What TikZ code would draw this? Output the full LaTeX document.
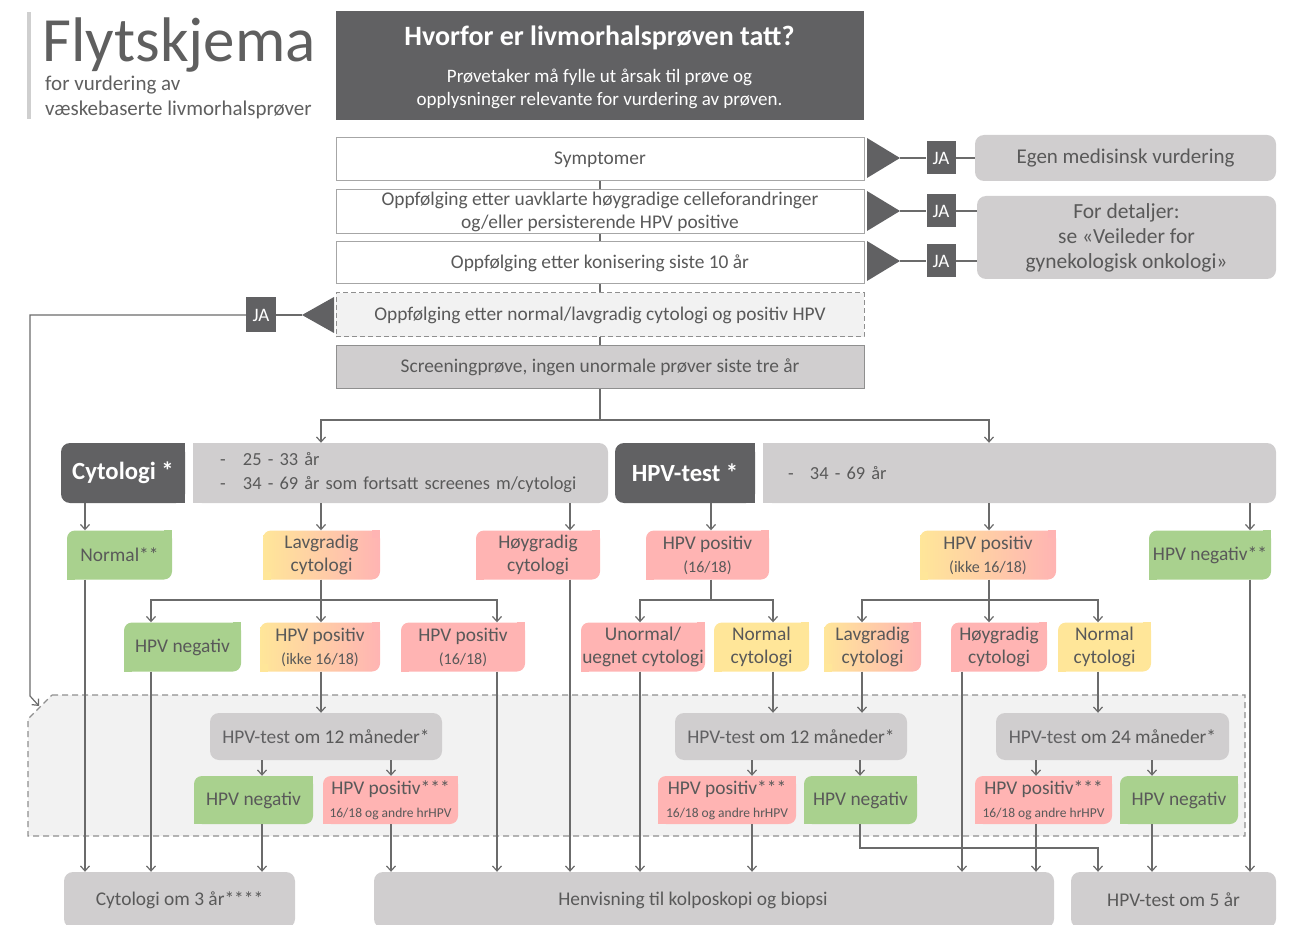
\documentclass[tikz,border=0pt]{standalone}
\usepackage{fontspec}
\setmainfont{Carlito}
\usetikzlibrary{arrows.meta,positioning}

\definecolor{cdark}{HTML}{616163}
\definecolor{clight}{HTML}{D0CECF}
\definecolor{cpale}{HTML}{F2F2F2}
\definecolor{cbar}{HTML}{CFCFCF}
\definecolor{cgreen}{HTML}{A9D18E}
\definecolor{cpink}{HTML}{FFB4B3}
\definecolor{cyellow}{HTML}{FFE699}
\definecolor{ctext}{HTML}{595959}
\definecolor{ctitle}{HTML}{5F5F5F}
\definecolor{cline}{HTML}{6B6B6B}
\definecolor{cborder}{HTML}{A6A6A6}
\definecolor{cedge}{HTML}{8F8F8F}

\tikzset{
  txt/.style={inner sep=0pt, align=center, text=ctext, font=\fontsize{19.4}{23}\selectfont},
  wbox/.style={txt, draw=cborder, line width=1pt, fill=white, minimum width=528pt, minimum height=43pt},
  rbox/.style={txt, fill=clight, rounded corners=9pt},
  sbox/.style={txt, rounded corners=8pt, minimum height=49pt},
  gbox/.style={sbox, fill=cgreen},
  pbox/.style={sbox, fill=cpink},
  ybox/.style={sbox, fill=cyellow},
  mbox/.style={sbox, left color=cyellow, right color=cpink},
  dbox/.style={txt, fill=cdark, text=white, font=\bfseries\fontsize{24.7}{28}\selectfont, rounded corners=9pt, minimum height=60pt},
  tbox/.style={rbox, minimum width=232pt, minimum height=47pt},
  jabox/.style={txt, fill=cdark, text=white, font=\fontsize{19}{22}\selectfont, minimum width=29pt, minimum height=33pt},
  zone/.style={draw=cedge, fill=cpale, line width=1.1pt, dash pattern=on 6pt off 4pt},
  conn/.style={draw=cline, line width=1.2pt},
  arr/.style={conn, -{Straight Barb[length=5pt,width=9pt]}},
  ttl/.style={inner sep=0pt, text=ctitle, font=\fontsize{63}{63}\selectfont},
  subt/.style={inner sep=0pt, text=ctitle, font=\fontsize{21}{25}\selectfont}
}
\newcommand{\sm}[1]{{\fontsize{16}{18}\selectfont #1}}
\newcommand{\smm}[1]{{\fontsize{13.5}{16}\selectfont #1}}
\newcommand{\hpvt}{\textcolor{cdark}{HPV-test}}

\begin{document}
\begin{tikzpicture}[x=1pt,y=-1pt]
\useasboundingbox (0,0) rectangle (1294,925);

%%% title
\fill[cbar] (27,12) rectangle (31,119);
\node[ttl, anchor=base west] (ttl) at (42,62) {Flytskjema};
\node[subt, anchor=base west] (sub1) at (45,91) {for vurdering av};
\node[subt, anchor=base west] (sub2) at (45,116) {væskebaserte livmorhalsprøver};

%%% header
\node[txt, fill=cdark, minimum width=528pt, minimum height=109pt] (hdr) at (599.5,65.5) {};
\node[txt, text=white, font=\bfseries\fontsize{28}{32}\selectfont] (hdrt) at (599.5,38) {Hvorfor er livmorhalsprøven tatt?};
\node[txt, text=white, font=\fontsize{19}{23}\selectfont] (hdrs) at (599.5,89) {Prøvetaker må fylle ut årsak til prøve og\\opplysninger relevante for vurdering av prøven.};

%%% questions
\node[wbox] (sym) at (600,159.5) {Symptomer};
\node[wbox, minimum height=44pt] (uavk) at (600,212) {Oppfølging etter uavklarte høygradige celleforandringer\\og/eller persisterende HPV positive};
\node[wbox, minimum height=42pt] (koni) at (600,263) {Oppfølging etter konisering siste 10 år};
\node[wbox, fill=cpale, draw=cedge, dash pattern=on 5pt off 3pt, minimum height=44pt] (ofu) at (600,315) {Oppfølging etter normal/lavgradig cytologi og positiv HPV};
\node[wbox, fill=clight, draw=cedge, minimum height=43pt] (scr) at (600,367.5) {Screeningprøve, ingen unormale prøver siste tre år};
\draw[conn] (sym) -- (uavk);
\draw[conn] (uavk) -- (koni);
\draw[conn] (koni) -- (ofu);
\draw[conn] (ofu) -- (scr);

%%% JA
\coordinate (t1) at (900,158);
\coordinate (t2) at (900,211);
\coordinate (t3) at (900,261);
\coordinate (t4) at (302,315);
\foreach \t in {t1,t2,t3}
  \fill[cdark] (\t) -- ++(-33,-20) -- ++(0,40) -- cycle;
\fill[cdark] (t4) -- ++(32,-18) -- ++(0,36) -- cycle;
\node[jabox] (ja1) at (941,158) {JA};
\node[jabox] (ja2) at (941,211) {JA};
\node[jabox] (ja3) at (941,261) {JA};
\node[jabox, minimum width=30pt, minimum height=35pt] (ja4) at (261,315) {JA};
\node[rbox, font=\fontsize{21}{25}\selectfont, minimum width=301pt, minimum height=46pt] (egen) at (1125.5,158) {Egen medisinsk vurdering};
\node[rbox, font=\fontsize{21.5}{25}\selectfont, minimum width=299pt, minimum height=83pt] (det) at (1126.5,237.5) {For detaljer:\\se «Veileder for\\gynekologisk onkologi»};
\draw[conn] (t1) -- (ja1) -- (egen);
\draw[conn] (t2) -- (ja2) -- (ja2 -| det.west);
\draw[conn] (t3) -- (ja3) -- (ja3 -| det.west);
\draw[conn] (t4) -- (ja4);

%%% follow-up zone
\draw[zone] (52,695) -- (1245,695) -- (1245,836) -- (28,836) -- (28,719) -- cycle;

%%% test type
\node[dbox, minimum width=124pt] (cytl) at (123,473) {Cytologi *};
\node[rbox, minimum height=60pt, text width=361pt, inner xsep=27pt, align=left, font=\fontsize{18.4}{24}\selectfont] (cytr) at (400.5,473) {\makebox[23pt][l]{-}25 - 33 år\\\makebox[23pt][l]{-}34 - 69 år som fortsatt screenes m/cytologi};
\node[dbox, minimum width=140pt] (hpvl) at (685,473) {HPV-test *};
\node[rbox, minimum height=60pt, text width=463pt, inner xsep=25pt, align=left, font=\fontsize{18.4}{24}\selectfont] (hpvr) at (1019.5,473) {\makebox[22pt][l]{-}34 - 69 år};

%%% row 1
\node[gbox, minimum width=105pt] (nrm) at (119.5,555) {Normal**};
\node[mbox, minimum width=117pt] (lav1) at (321.5,555) {Lavgradig\\cytologi};
\node[pbox, minimum width=124pt] (hoy1) at (538,555) {Høygradig\\cytologi};
\node[pbox, minimum width=123pt] (hp16) at (707.5,555) {HPV positiv\\\sm{(16/18)}};
\node[mbox, minimum width=136pt] (hpik) at (988,555) {HPV positiv\\\sm{(ikke 16/18)}};
\node[gbox, minimum width=122pt] (hneg1) at (1210,555) {HPV negativ**};

%%% row 2
\node[gbox, minimum width=117pt] (hneg2) at (182.5,647) {HPV negativ};
\node[mbox, minimum width=120pt] (hpos2) at (320,647) {HPV positiv\\\sm{(ikke 16/18)}};
\node[pbox, minimum width=124pt] (hpos16) at (463,647) {HPV positiv\\\sm{(16/18)}};
\node[pbox, minimum width=124pt] (unorm) at (643,647) {Unormal/\\uegnet cytologi};
\node[ybox, minimum width=95pt] (ncyt1) at (761.5,647) {Normal\\cytologi};
\node[mbox, minimum width=97pt] (lav3) at (872.5,647) {Lavgradig\\cytologi};
\node[pbox, minimum width=96pt] (hoy3) at (999,647) {Høygradig\\cytologi};
\node[ybox, minimum width=93pt] (ncyt2) at (1104.5,647) {Normal\\cytologi};

%%% control tests
\node[tbox] (t12a) at (326,736.5) {\hpvt{} om 12 måneder*};
\node[tbox] (t12b) at (791,736.5) {\hpvt{} om 12 måneder*};
\node[tbox, minimum width=233pt] (t24) at (1112.5,736.5) {\hpvt{} om 24 måneder*};

%%% row 3
\node[gbox, minimum width=119pt, minimum height=48pt] (hneg3) at (253.5,800) {HPV negativ};
\node[pbox, minimum width=135pt, minimum height=48pt] (hpos3) at (390.5,800) {HPV positiv***\\\smm{16/18 og andre hrHPV}};
\node[pbox, minimum width=138pt, minimum height=48pt] (hpos4) at (727,800) {HPV positiv***\\\smm{16/18 og andre hrHPV}};
\node[gbox, minimum width=113pt, minimum height=48pt] (hneg4) at (860.5,800) {HPV negativ};
\node[pbox, minimum width=137pt, minimum height=48pt] (hpos5) at (1043.5,800) {HPV positiv***\\\smm{16/18 og andre hrHPV}};
\node[gbox, minimum width=118pt, minimum height=48pt] (hneg5) at (1179,800) {HPV negativ};

%%% outcomes
\node[rbox, minimum width=231pt, minimum height=56pt] (c3) at (179.5,900) {Cytologi om 3 år****};
\node[rbox, minimum width=680pt, minimum height=56pt] (henv) at (714,900) {\hspace*{-42pt}Henvisning til kolposkopi og biopsi};
\node[rbox, minimum width=205pt, minimum height=56pt] (h5) at (1173.5,900) {HPV-test om 5 år};

%%% sharp corners
\foreach \n/\a/\b in {nrm/cgreen/cgreen, lav1/cpink/cyellow, hoy1/cpink/cpink, hp16/cpink/cpink,
    hpik/cpink/cyellow, hneg1/cgreen/cgreen, hneg2/cgreen/cgreen, hpos2/cpink/cyellow,
    hpos16/cpink/cpink, unorm/cpink/cpink, ncyt1/cyellow/cyellow, lav3/cpink/cyellow,
    hoy3/cpink/cpink, ncyt2/cyellow/cyellow, hneg3/cgreen/cgreen, hpos3/cpink/cpink,
    hpos4/cpink/cpink, hneg4/cgreen/cgreen, hpos5/cpink/cpink, hneg5/cgreen/cgreen}{
  \fill[\a] (\n.north east) rectangle ++(-8,8);
  \fill[\b] (\n.south west) rectangle ++(8,-8);
}
\foreach \n in {cytl,hpvl}{
  \fill[cdark] (\n.north east) rectangle ++(-9,9);
  \fill[cdark] (\n.south east) rectangle ++(-9,-9);
}
\foreach \n in {cytr,hpvr}{
  \fill[clight] (\n.north west) rectangle ++(9,9);
  \fill[clight] (\n.south west) rectangle ++(9,-9);
}

%%% columns
\foreach \n/\x in {cA/85, cB/151, cC/321, cD/497, cE/570, cF/711, cG/640, cH/773, cI/862,
    cJ/989, cK/1098, cL/1250, cM/262, cN/391, cO/752, cP/860, cQ/962, cR/1036, cS/1152}
  \coordinate (\n) at (\x,0);
\coordinate (spl) at (600,420);
\coordinate (s1) at (321,600);
\coordinate (s2) at (711,600);
\coordinate (s3) at (989,600);
\coordinate (elb) at (1098,848);
\coordinate (lb) at (30,696);
\coordinate (zc) at (39,706);

%%% connectors
\draw[arr] (ja4) -- (ja4 -| lb) -- (lb) -- (zc);
\draw[conn] (scr) -- (spl);
\draw[arr] (spl) -| (cytr.north -| cC);
\draw[arr] (spl) -| (hpvr.north -| cJ);

\draw[arr] (cytl.south -| cA) -- (nrm.north -| cA);
\draw[arr] (cytr.south -| cC) -- (lav1.north -| cC);
\draw[arr] (cytr.south -| cE) -- (hoy1.north -| cE);
\draw[arr] (hpvl.south -| cF) -- (hp16.north -| cF);
\draw[arr] (hpvr.south -| cJ) -- (hpik.north -| cJ);
\draw[arr] (hpvr.south -| cL) -- (hneg1.north -| cL);

\draw[conn] (lav1.south -| cC) -- (s1);
\draw[arr] (s1) -| (hneg2.north -| cB);
\draw[arr] (s1) -- (hpos2.north -| cC);
\draw[arr] (s1) -| (hpos16.north -| cD);
\draw[conn] (hp16.south -| cF) -- (s2);
\draw[arr] (s2) -| (unorm.north -| cG);
\draw[arr] (s2) -| (ncyt1.north -| cH);
\draw[conn] (hpik.south -| cJ) -- (s3);
\draw[arr] (s3) -| (lav3.north -| cI);
\draw[arr] (s3) -- (hoy3.north -| cJ);
\draw[arr] (s3) -| (ncyt2.north -| cK);

\draw[arr] (hpos2.south -| cC) -- (t12a.north -| cC);
\draw[arr] (ncyt1.south -| cH) -- (t12b.north -| cH);
\draw[arr] (lav3.south -| cI) -- (t12b.north -| cI);
\draw[arr] (ncyt2.south -| cK) -- (t24.north -| cK);

\draw[arr] (t12a.south -| cM) -- (hneg3.north -| cM);
\draw[arr] (t12a.south -| cN) -- (hpos3.north -| cN);
\draw[arr] (t12b.south -| cO) -- (hpos4.north -| cO);
\draw[arr] (t12b.south -| cP) -- (hneg4.north -| cP);
\draw[arr] (t24.south -| cR) -- (hpos5.north -| cR);
\draw[arr] (t24.south -| cS) -- (hneg5.north -| cS);

\draw[arr] (nrm.south -| cA) -- (c3.north -| cA);
\draw[arr] (hneg2.south -| cB) -- (c3.north -| cB);
\draw[arr] (hneg3.south -| cM) -- (c3.north -| cM);
\draw[arr] (hpos3.south -| cN) -- (henv.north -| cN);
\draw[arr] (hpos16.south -| cD) -- (henv.north -| cD);
\draw[arr] (hoy1.south -| cE) -- (henv.north -| cE);
\draw[arr] (unorm.south -| cG) -- (henv.north -| cG);
\draw[arr] (hpos4.south -| cO) -- (henv.north -| cO);
\draw[arr] (hoy3.south -| cQ) -- (henv.north -| cQ);
\draw[arr] (hpos5.south -| cR) -- (henv.north -| cR);
\draw[arr] (hneg4.south -| cP) |- (elb) -- (h5.north -| elb);
\draw[arr] (hneg5.south -| cS) -- (h5.north -| cS);
\draw[arr] (hneg1.south -| cL) -- (h5.north -| cL);
\end{tikzpicture}
\end{document}
